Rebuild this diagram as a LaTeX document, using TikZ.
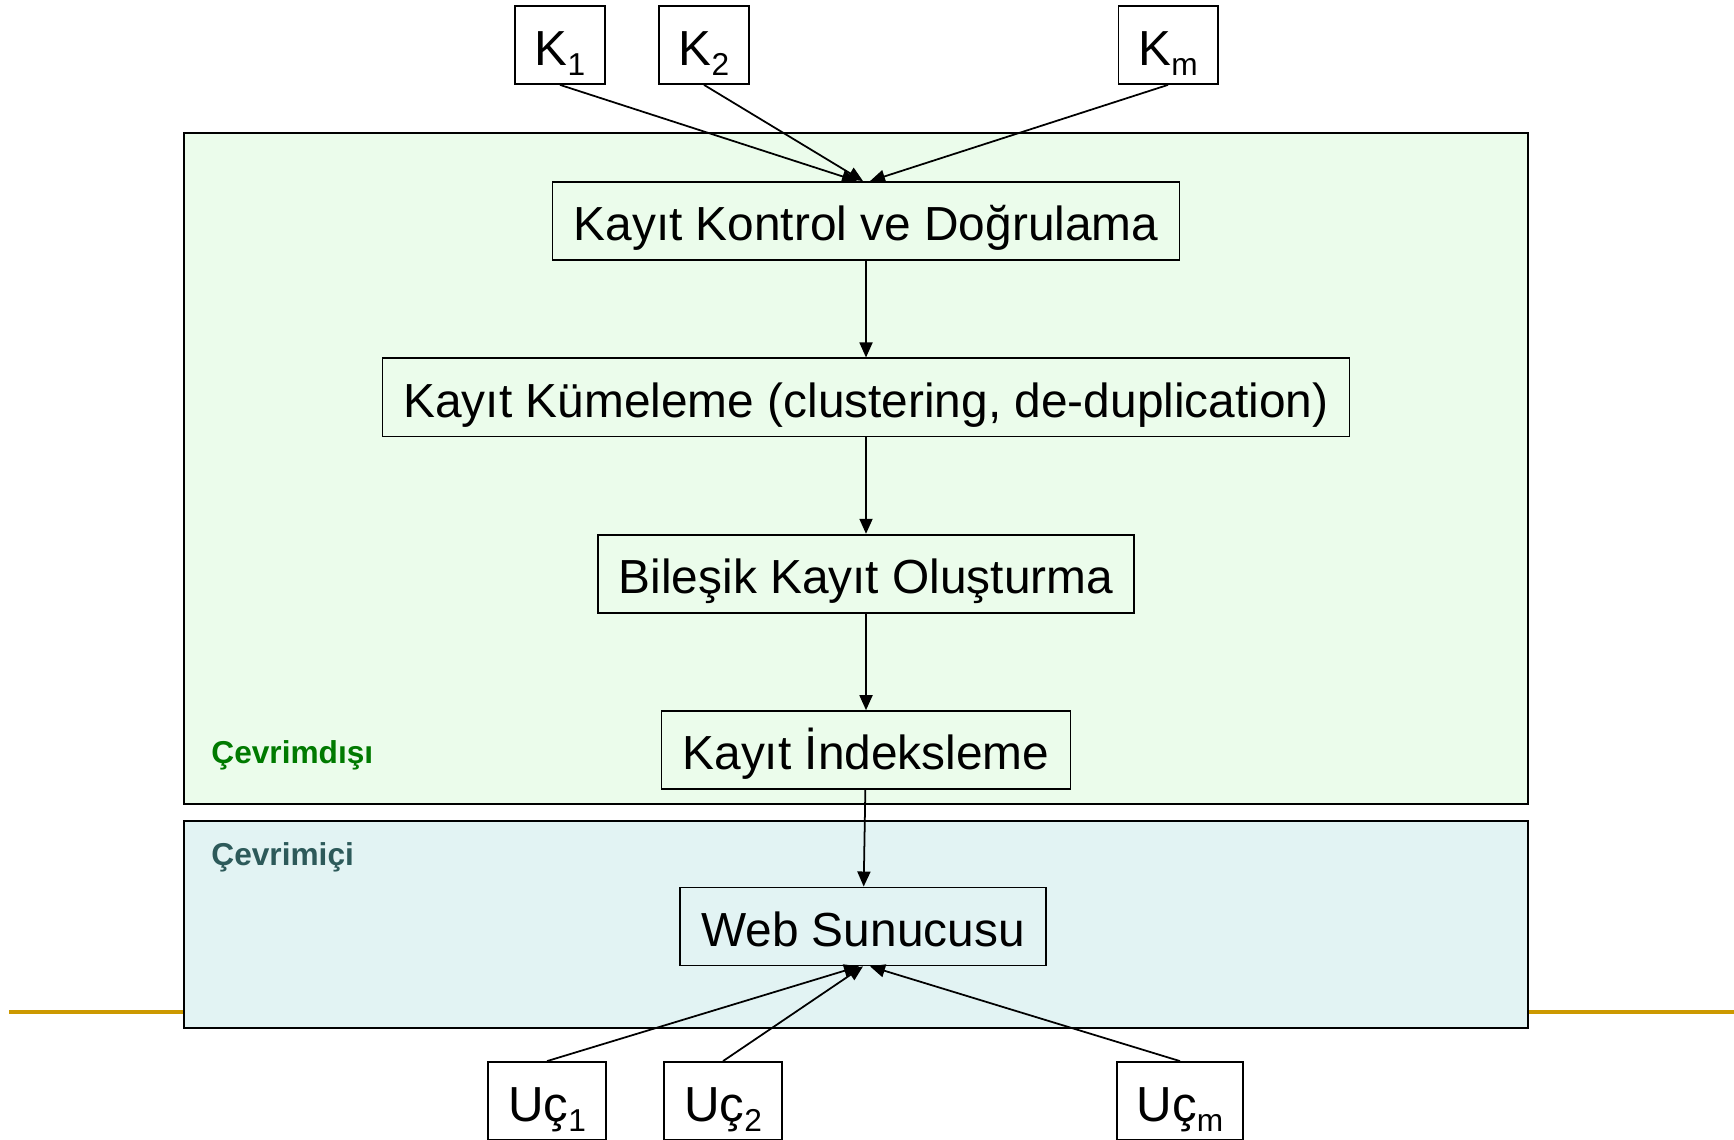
\documentclass[tikz,border=0pt]{standalone}
\usepackage{fontspec}
\setmainfont{Liberation Sans}
\usetikzlibrary{positioning,arrows.meta}

\definecolor{altin}{RGB}{204,153,0}
\definecolor{disizemin}{RGB}{235,252,235}
\definecolor{icizemin}{RGB}{226,243,243}
\definecolor{yesil}{RGB}{0,122,0}
\definecolor{koyu}{RGB}{45,90,90}

\newcommand{\altind}[1]{\raisebox{-3.1pt}{\fontsize{9}{11}\selectfont#1}}

\begin{document}
\begin{tikzpicture}[x=0.01cm,y=-0.01cm,
    kutu/.style={draw,line width=0.5pt,minimum height=0.78cm,inner xsep=0.21cm,
      text height=11.2pt,text depth=0pt,font=\fontsize{13.6}{16}\selectfont},
    kaynak/.style={draw,line width=0.5pt,fill=white,minimum height=0.78cm,inner xsep=0.2cm,
      text height=11.4pt,text depth=0pt,font=\fontsize{14}{16}\selectfont},
    ok/.style={-{Triangle[length=0.15cm,width=0.13cm]},line width=0.5pt},
    bolum/.style={anchor=west,font=\bfseries\fontsize{9}{11}\selectfont}]
    \useasboundingbox (0,0) rectangle (1734,1140);

    \draw[altin,line width=0.9pt] (9,1012) -- (1734,1012);
    \draw[fill=disizemin,line width=0.7pt] (184,133) rectangle (1528,804);
    \draw[fill=icizemin,line width=0.7pt] (184,821) rectangle (1528,1028);

    \node[bolum,text=yesil] (disi) at (199,755) {Çevrimdışı};
    \node[bolum,text=koyu] (ici) at (199,857) {Çevrimiçi};

    \node[kutu] (kontrol) at (866,221) {Kayıt Kontrol ve Doğrulama};
    \node[kutu,below=0.965cm of kontrol] (kumeleme) {Kayıt Kümeleme (clustering, de-duplication)};
    \node[kutu,below=0.965cm of kumeleme] (bilesik) {Bileşik Kayıt Oluşturma};
    \node[kutu,below=0.965cm of bilesik] (indeks) {Kayıt İndeksleme};
    \node[kutu,below=0.965cm of indeks,xshift=-0.03cm] (web) {Web Sunucusu};

    \node[kaynak] (k1) at (560,45) {K\altind{1}};
    \node[kaynak] (k2) at (704,45) {K\altind{2}};
    \node[kaynak] (km) at (1168,45) {K\altind{m}};

    \node[kaynak] (u1) at (547,1101) {Uç\altind{1}};
    \node[kaynak] (u2) at (723,1101) {Uç\altind{2}};
    \node[kaynak] (um) at (1180,1101) {Uç\altind{m}};

    \draw[ok] (k1.south) -- ([xshift=-0.09cm]kontrol.north);
    \draw[ok] (k2.south) -- ([xshift=-0.03cm]kontrol.north);
    \draw[ok] (km.south) -- ([xshift=0.04cm]kontrol.north);

    \draw[ok] (kontrol) -- (kumeleme);
    \draw[ok] (kumeleme) -- (bilesik);
    \draw[ok] (bilesik) -- (indeks);
    \draw[ok] (indeks) -- (web);

    \draw[ok] (u1.north) -- ([xshift=-0.04cm]web.south);
    \draw[ok] (u2.north) -- ([xshift=0cm]web.south);
    \draw[ok] (um.north) -- ([xshift=0.07cm]web.south);
\end{tikzpicture}
\end{document}
